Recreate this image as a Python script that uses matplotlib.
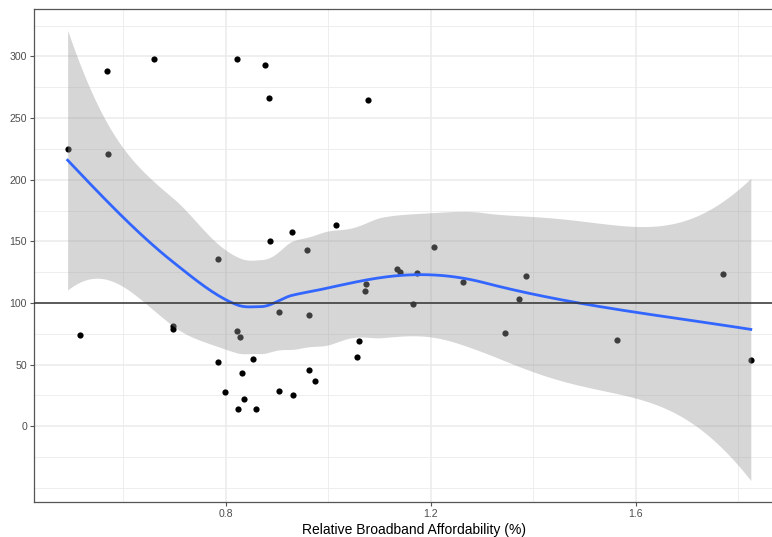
import numpy as np
import matplotlib
matplotlib.use("Agg")
import matplotlib.pyplot as plt
from matplotlib.ticker import FixedLocator

plt.rcParams['font.family'] = ['Liberation Sans', 'DejaVu Sans']

affordability = [0.491, 0.567, 0.569, 0.660, 0.821, 0.876, 0.884, 1.078, 0.886, 0.929,
                 0.958, 1.015, 0.785, 1.133, 1.206, 1.140, 1.173, 1.385, 1.769, 1.262,
                 1.165, 1.371, 1.345, 1.563, 1.824, 0.516, 0.697, 0.697, 0.784, 0.799,
                 0.822, 0.828, 0.823, 0.831, 0.835, 0.853, 0.859, 0.904, 0.904, 0.930,
                 0.961, 0.961, 0.974, 1.055, 1.060, 1.073, 1.071]
index_value = [224.9, 287.9, 220.6, 298.1, 297.6, 293.3, 266.0, 264.9, 150.3, 157.3,
               143.0, 163.5, 135.9, 127.8, 145.2, 125.4, 124.6, 121.9, 123.3, 117.3,
               99.5, 103.0, 75.7, 70.2, 53.8, 74.0, 81.6, 78.9, 52.1, 28.1,
               77.5, 72.2, 14.0, 43.0, 22.4, 54.6, 14.0, 92.7, 28.6, 25.6,
               90.0, 45.4, 36.7, 56.2, 69.4, 115.2, 109.7]
x_major = [0.8, 1.2, 1.6]
x_minor = [0.6, 1.0, 1.4, 1.8]
y_major = [0, 50, 100, 150, 200, 250, 300]
y_minor = [-50, -25, 25, 75, 125, 175, 225, 275, 325]
reference_level = 100
x_label = "Relative Broadband Affordability (%)"

x = np.asarray(affordability)
y = np.asarray(index_value)
n = len(x)
SPAN = 0.75


def local_rows(x0, xs, span=SPAN):
    """Rows of the local quadratic fit operator: value and slope at x0."""
    q = int(np.floor(len(xs) * span))
    d = np.abs(xs - x0)
    h = np.sort(d)[q - 1]
    u = np.clip(d / h, 0, 1)
    w = (1 - u ** 3) ** 3
    X = np.column_stack([np.ones_like(xs), xs - x0, (xs - x0) ** 2])
    A = X.T @ (w[:, None] * X)
    B = np.linalg.solve(A, X.T * w)
    return B[0], B[1]


# kd-tree vertices as in loess surface="interpolate"
fc = int(np.floor(n * SPAN * 0.2))
rng = x.max() - x.min()
mu = 0.005 * rng
verts = {x.min() - mu, x.max() + mu}


def split(a, b):
    pts = np.sort(x[(x >= a) & (x <= b)])
    if len(pts) <= fc:
        return
    m = len(pts)
    med = 0.5 * (pts[(m - 1) // 2] + pts[m // 2])
    if med <= a or med >= b:
        return
    verts.add(med)
    split(a, med)
    split(med, b)


split(x.min() - mu, x.max() + mu)
V = np.array(sorted(verts))
VL = [local_rows(v, x) for v in V]


def interp_rows(xq):
    out = []
    for xi in xq:
        k = np.clip(np.searchsorted(V, xi) - 1, 0, len(V) - 2)
        a, b = V[k], V[k + 1]
        hh = b - a
        t = (xi - a) / hh
        h00 = 2 * t ** 3 - 3 * t ** 2 + 1
        h10 = t ** 3 - 2 * t ** 2 + t
        h01 = -2 * t ** 3 + 3 * t ** 2
        h11 = t ** 3 - t ** 2
        out.append(h00 * VL[k][0] + h10 * hh * VL[k][1] + h01 * VL[k + 1][0] + h11 * hh * VL[k + 1][1])
    return np.array(out)


L = interp_rows(x)
I = np.eye(n)
R = (I - L).T @ (I - L)
delta1 = np.trace(R)
delta2 = np.trace(R @ R)
resid = y - L @ y
sigma = np.sqrt(np.sum(resid ** 2) / delta1)
df = delta1 ** 2 / delta2
z = 1.959964
tq = z + (z ** 3 + z) / (4 * df) + (5 * z ** 5 + 16 * z ** 3 + 3 * z) / (96 * df ** 2)

xg = np.linspace(x.min(), x.max(), 200)
Lg = interp_rows(xg)
fit = Lg @ y
se = sigma * np.sqrt(np.sum(Lg ** 2, axis=1))
lo = fit - tq * se
hi = fit + tq * se

W_px, H_px = 772, 537
fig = plt.figure(figsize=(W_px / 100, H_px / 100), dpi=100)
left, right, top, bottom = 34, 794, 9, 502
ax = fig.add_axes([left / W_px, 1 - bottom / H_px, (right - left) / W_px, (bottom - top) / H_px])

x0_px, x0_val, px_per_unit = 226, 0.8, 512.5
ax.set_xlim(x0_val + (left - x0_px) / px_per_unit, x0_val + (right - x0_px) / px_per_unit)
y0_px, ypu = 426.3, 1.233
ax.set_ylim((y0_px - bottom) / ypu, (y0_px - top) / ypu)

grid_c = '#ebebeb'
for v in x_minor:
    ax.axvline(v, color=grid_c, lw=0.6, zorder=0)
for v in x_major:
    ax.axvline(v, color=grid_c, lw=1.1, zorder=0)
for v in y_minor:
    ax.axhline(v, color=grid_c, lw=0.6, zorder=0)
for v in y_major:
    ax.axhline(v, color=grid_c, lw=1.1, zorder=0)

ax.scatter(x, y, s=20, color='black', linewidths=0, zorder=2)
ax.fill_between(xg, lo, hi, color='#999999', alpha=0.4, lw=0, zorder=3)
ax.plot(xg, fit, color='#3366FF', lw=2.0, zorder=4)
ax.axhline(reference_level, color='#333333', lw=1.1, zorder=5)

ax.xaxis.set_major_locator(FixedLocator(x_major))
ax.yaxis.set_major_locator(FixedLocator(y_major))
ax.set_xticklabels([f"{v:.1f}" for v in x_major])
ax.set_yticklabels([str(v) for v in y_major])
ax.tick_params(axis='both', colors='#555555', labelcolor='#4d4d4d', labelsize=7.6,
               length=3, width=0.8, pad=2)
for s in ax.spines.values():
    s.set_color('#555555')
    s.set_linewidth(0.9)
ax.set_xlabel(x_label, fontsize=10, color='black', labelpad=3)

fig.savefig("out.png", dpi=100)
